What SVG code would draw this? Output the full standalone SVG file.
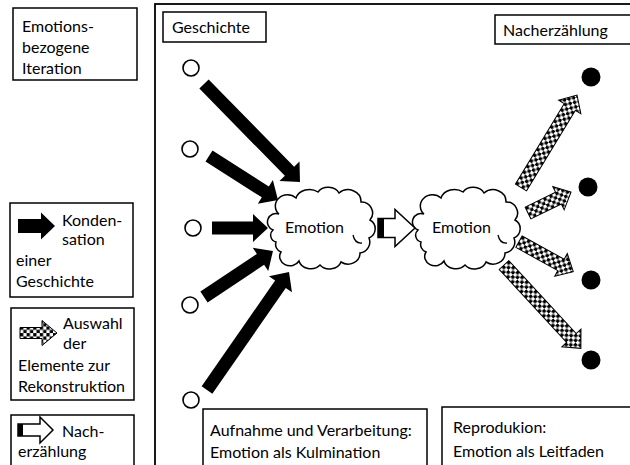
<svg xmlns="http://www.w3.org/2000/svg" width="630" height="465" viewBox="0 0 630 465">
<style>
.box{fill:#fff;stroke:#000;stroke-width:1.5}
.frame{fill:none;stroke:#000;stroke-width:1.8}
.t{font-family:Lato,"Liberation Sans",sans-serif;font-size:16px;fill:#000}
.blk{fill:#000}
.chk{fill:url(#chk);stroke:#000;stroke-width:1}
.wht{fill:#fff;stroke:#000;stroke-width:1.5}
.oc{fill:#fff;stroke:#000;stroke-width:1.6}
.fc{fill:#000}
.cloud{fill:#fff;stroke:#000;stroke-width:1.5}
.curl{fill:none;stroke:#000;stroke-width:1.3}
</style>
<defs>
<pattern id="chk" width="6.6" height="6.6" x="0" y="-6.5" patternUnits="userSpaceOnUse">
<rect width="6.6" height="6.6" fill="#fff"/>
<rect width="3.3" height="3.3" fill="#000"/>
<rect x="3.3" y="3.3" width="3.3" height="3.3" fill="#000"/>
</pattern>
<path id="cloudShape" d="M 1,40 A 8 8 0 0 1 7,24 A 12 11 0 0 1 24,8 A 14 12 0 0 1 46,2 A 12 10 0 0 1 67,3 A 13 12 0 0 1 89,12 A 11 11 0 0 1 98,30 A 10 10 0 0 1 97,48 A 11 11 0 0 1 88,63 A 12 11 0 0 1 69,72 A 12 10 0 0 1 48,75 A 12 10 0 0 1 27,71 A 10 9 0 0 1 9,62 A 8 8 0 0 1 4,52 A 7 7 0 0 1 1,40 Z"/>
</defs>

<rect class="frame" x="155" y="4" width="490" height="480"/>

<g id="legend-title">
<rect class="box" x="13" y="8" width="124" height="72"/>
<text class="t" x="22" y="32">Emotions-</text>
<text class="t" x="22" y="53">bezogene</text>
<text class="t" x="22" y="74">Iteration</text>
</g>

<g id="legend-kondensation">
<rect class="box" x="10" y="203" width="123" height="94"/>
<polygon class="blk" transform="translate(18,226)" points="0,-7 23,-7 23,-13.5 37,0 23,13.5 23,7 0,7"/>
<text class="t" x="62" y="226">Konden-</text>
<text class="t" x="62" y="245">sation</text>
<text class="t" x="16" y="266">einer</text>
<text class="t" x="16" y="287">Geschichte</text>
</g>

<g id="legend-auswahl">
<rect class="box" x="11" y="308" width="123" height="92"/>
<polygon class="chk" transform="translate(20,333)" points="0,-5.5 22,-5.5 22,-12.5 37,0 22,12.5 22,5.5 0,5.5"/>
<text class="t" x="63" y="329">Auswahl</text>
<text class="t" x="63" y="349">der</text>
<text class="t" x="18" y="371">Elemente zur</text>
<text class="t" x="18" y="392">Rekonstruktion</text>
</g>

<g id="legend-nacherzaehlung">
<rect class="box" x="11" y="415" width="123" height="70"/>
<g transform="translate(18,430)">
<polygon class="wht" points="0,-6 22,-6 22,-13 35,0 22,13 22,6 0,6"/>
<rect class="blk" x="0" y="-6" width="5" height="12"/>
</g>
<text class="t" x="62" y="437">Nach-</text>
<text class="t" x="18" y="457">erzählung</text>
</g>

<g id="label-geschichte">
<rect class="box" x="163" y="12" width="103" height="30"/>
<text class="t" x="172" y="33">Geschichte</text>
</g>

<g id="label-nacherzaehlung">
<rect class="box" x="495" y="15" width="145" height="29"/>
<text class="t" x="503" y="36">Nacherzählung</text>
</g>

<g id="label-aufnahme">
<rect class="box" x="203" y="409" width="224" height="70"/>
<text class="t" x="210" y="436">Aufnahme und Verarbeitung:</text>
<text class="t" x="210" y="458">Emotion als Kulmination</text>
</g>

<g id="label-reproduktion">
<rect class="box" x="442" y="407" width="200" height="70"/>
<text class="t" x="453" y="433">Reprodukion:</text>
<text class="t" x="453" y="457">Emotion als Leitfaden</text>
</g>

<g id="story-elements">
<circle class="oc" cx="191" cy="68" r="8"/>
<circle class="oc" cx="190" cy="149" r="8"/>
<circle class="oc" cx="193" cy="228" r="8"/>
<circle class="oc" cx="190" cy="305" r="8"/>
<circle class="oc" cx="191" cy="400" r="8"/>
</g>

<g id="retold-elements">
<circle class="fc" cx="591" cy="77" r="9.5"/>
<circle class="fc" cx="588" cy="187" r="9.5"/>
<circle class="fc" cx="591" cy="280" r="9.5"/>
<circle class="fc" cx="591" cy="360" r="9.5"/>
</g>

<g id="emotion-1" transform="translate(272,190)">
<use href="#cloudShape" class="cloud"/>
<path class="curl" d="M 81,45 Q 83,54 90,53"/>
<text class="t" x="13" y="43">Emotion</text>
</g>

<g id="emotion-2" transform="translate(417,190)">
<use href="#cloudShape" class="cloud"/>
<path class="curl" d="M 81,45 Q 83,54 90,53"/>
<text class="t" x="15" y="43">Emotion</text>
</g>

<g id="connectors">
<polygon class="blk" transform="translate(204,84) rotate(45.6)" points="0,-6.5 122.2,-6.5 122.2,-14 137.2,0 122.2,14 122.2,6.5 0,6.5"/>
<polygon class="blk" transform="translate(209,156) rotate(32.5)" points="0,-6.5 66.8,-6.5 66.8,-14 81.8,0 66.8,14 66.8,6.5 0,6.5"/>
<polygon class="blk" transform="translate(212,228)" points="0,-6.5 41,-6.5 41,-14 56,0 41,14 41,6.5 0,6.5"/>
<polygon class="blk" transform="translate(204,297) rotate(-33.7)" points="0,-6.5 67.9,-6.5 67.9,-14 82.9,0 67.9,14 67.9,6.5 0,6.5"/>
<polygon class="blk" transform="translate(207,390) rotate(-55.2)" points="0,-6.5 128.7,-6.5 128.7,-14 143.7,0 128.7,14 128.7,6.5 0,6.5"/>

<g transform="translate(378,228)">
<polygon class="wht" points="0,-9.5 17,-9.5 17,-18.5 37,0 17,18.5 17,9.5 0,9.5"/>
<rect class="blk" x="0" y="-9.5" width="6" height="19"/>
</g>

<polygon class="chk" transform="translate(521,187.5) rotate(-58.8)" points="0,-6.5 94.1,-6.5 94.1,-13 108.1,0 94.1,13 94.1,6.5 0,6.5"/>
<polygon class="chk" transform="translate(528,213) rotate(-26)" points="0,-6.5 33.9,-6.5 33.9,-13 47.9,0 33.9,13 33.9,6.5 0,6.5"/>
<polygon class="chk" transform="translate(519,241.7) rotate(28.9)" points="0,-6.5 48,-6.5 48,-13 62,0 48,13 48,6.5 0,6.5"/>
<polygon class="chk" transform="translate(504,265) rotate(47.3)" points="0,-6.5 99.4,-6.5 99.4,-13 113.4,0 99.4,13 99.4,6.5 0,6.5"/>
</g>
</svg>
